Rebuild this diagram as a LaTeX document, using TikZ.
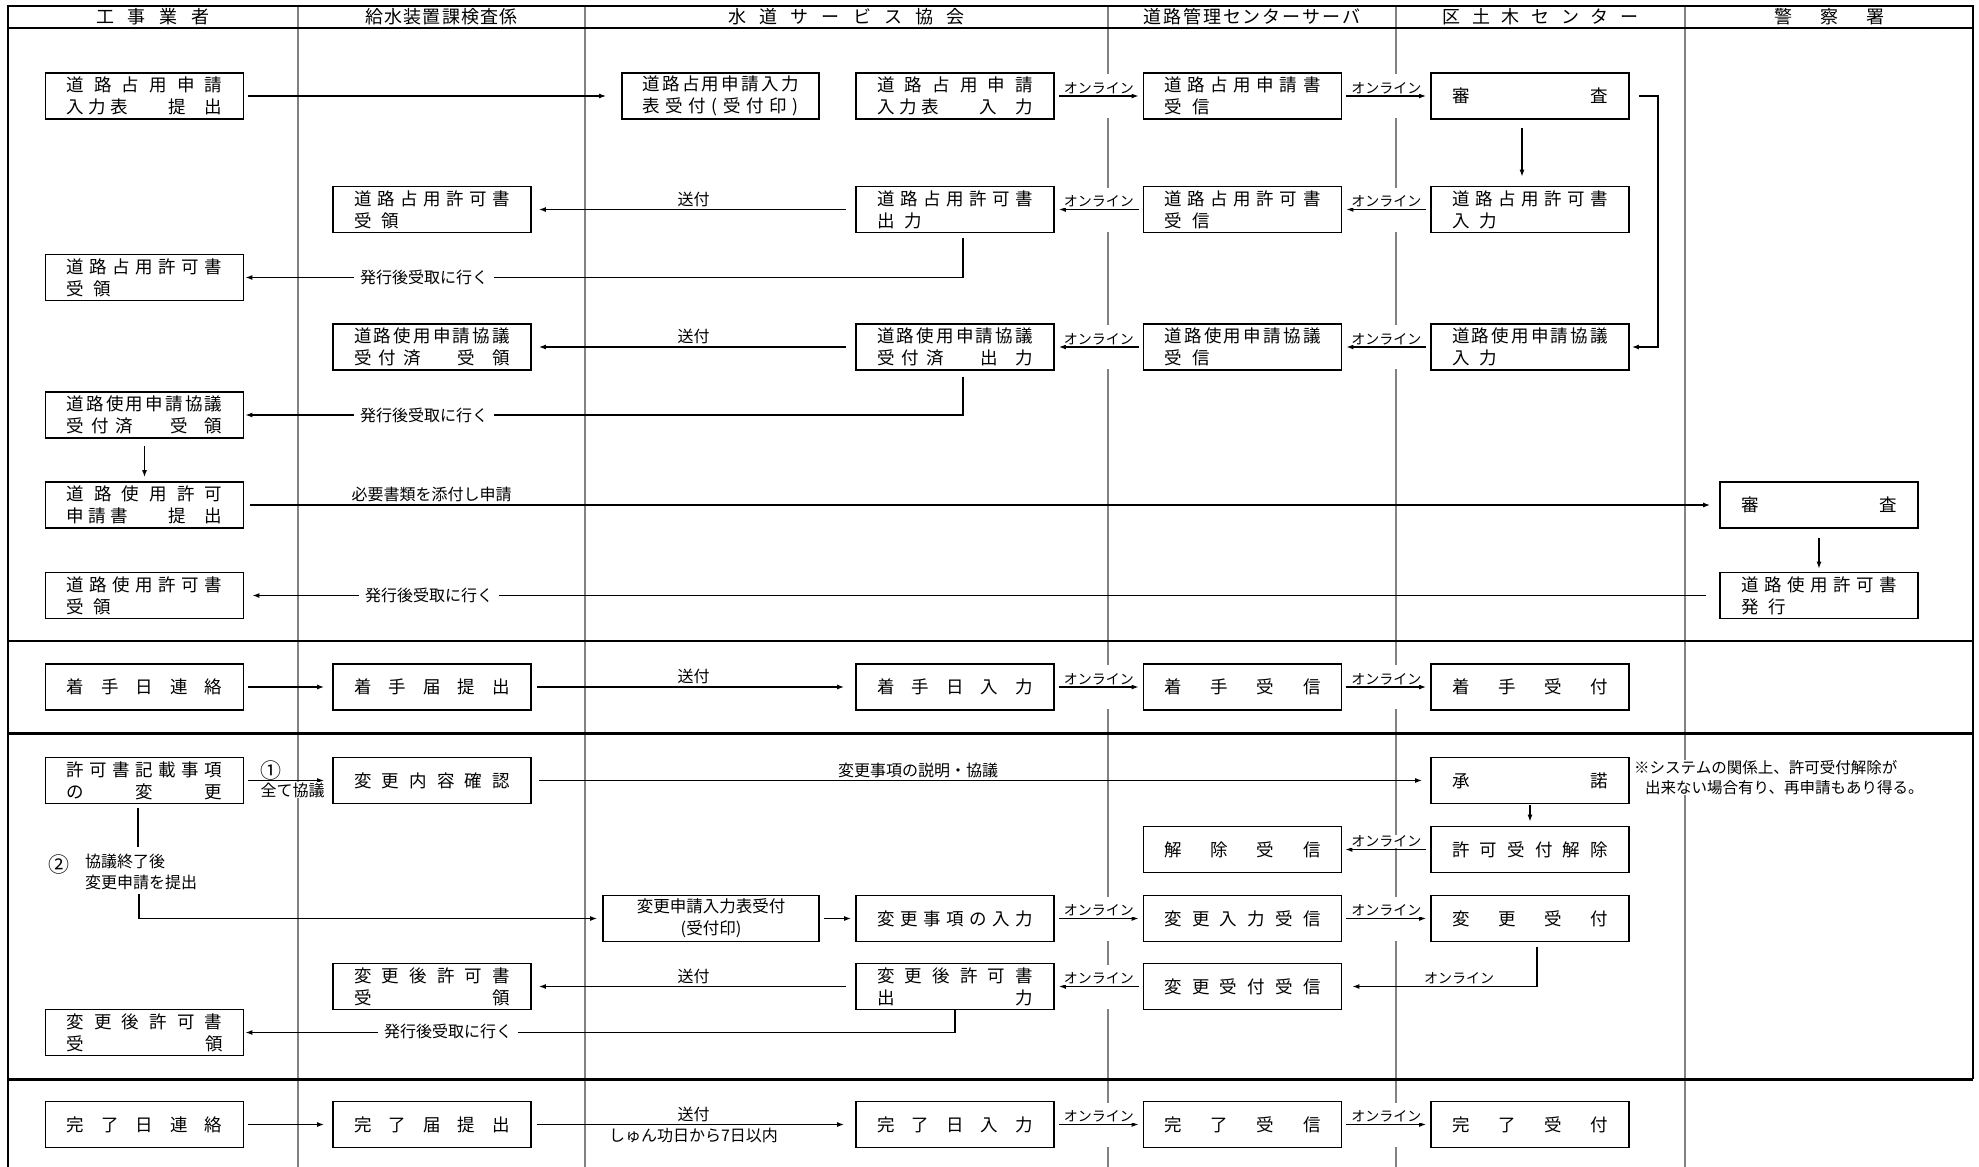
\documentclass[tikz,border=0pt]{standalone}
\usepackage{fontspec}
\setmainfont{Noto Sans CJK JP}
\usepackage{tikz}
\usetikzlibrary{arrows.meta, calc}
\definecolor{laneGray}{RGB}{130,130,130}
\newcommand{\spreadbox}[2]{\makebox[#1][s]{\spaceskip=0pt plus 1fil\relax #2}}
\newcommand{\wideline}[1]{\spreadbox{156pt}{#1}}
\newcommand{\jgap}{\hspace{10pt}}
\newcommand{\boxfont}{\fontsize{17.5pt}{22pt}\selectfont}
\newcommand{\lblfont}{\fontsize{16pt}{20.5pt}\selectfont}
\newcommand{\onlfont}{\fontsize{14pt}{16pt}\selectfont}
\newcommand{\hdfont}{\fontsize{18pt}{20pt}\selectfont}

\begin{document}
\begin{tikzpicture}[x=1pt, y=-1pt,
	procBox/.style={draw, line width=1.8pt, minimum width=198pt, minimum height=46pt,
		inner sep=0pt, text width=156pt, align=left, font=\boxfont},
	flowArrow/.style={line width=1.2pt, -{Latex[length=7pt,width=5pt]}, shorten <=4pt, shorten >=4pt},
	plainLine/.style={line width=1.2pt},
	onlineLbl/.style={midway, above=1pt, inner sep=0.5pt, font=\onlfont, fill=white},
	sendLbl/.style={midway, above=2pt, inner sep=0.5pt, font=\lblfont},
	pickupLbl/.style={fill=white, inner xsep=6pt, inner ysep=1pt, font=\lblfont},
	headLbl/.style={inner sep=0pt, font=\hdfont}]
	\useasboundingbox (0,0) rectangle (1979,1167);
	% lanes
	\foreach \lx in {298,585,1396,1685}
		\draw[laneGray, line width=2.6pt] (\lx,6) -- (\lx,1167);
	\draw[laneGray, line width=1.3pt] (1108,6) -- (1108,1167);
	\foreach \gx/\gy in {1108/96, 1108/209.5, 1108/347, 1108/687, 1108/918.5, 1108/987, 1108/1124.5,
		1396/96, 1396/209.5, 1396/347, 1396/687, 1396/918.5, 1396/1124.5}
		\fill[white] (\gx-3,\gy-22) rectangle (\gx+3,\gy+22);
	% frame
	\draw[line width=2.8pt] (8,6) -- (1973,6);
	\draw[line width=2.8pt] (8,28) -- (1973,28);
	\draw[line width=2pt] (8,5) -- (8,1167);
	\draw[line width=2.4pt] (1973,5) -- (1973,1079);
	\draw[line width=2pt] (8,641) -- (1973,641);
	\draw[line width=3pt] (8,733) -- (1973,733);
	\draw[line width=3pt] (8,1079) -- (1973,1079);
	% header
	\node[headLbl] (hd1) at (153,17) {\spreadbox{114pt}{工 事 業 者}};
	\node[headLbl] (hd2) at (441.5,17) {\spreadbox{152pt}{給 水 装 置 課 検 査 係}};
	\node[headLbl] (hd3) at (846.5,17) {\spreadbox{236pt}{水 道 サ ー ビ ス 協 会}};
	\node[headLbl] (hd4) at (1252,17) {\spreadbox{217pt}{道 路 管 理 セ ン タ ー サ ー バ}};
	\node[headLbl] (hd5) at (1540.5,17) {\spreadbox{196pt}{区 土 木 セ ン タ ー}};
	\node[headLbl] (hd6) at (1829,17) {\spreadbox{110pt}{警 察 署}};

	% block 1: road occupation / road use
	\node[procBox] (a1) at (144.5,96) {\wideline{道 路 占 用 申 請}\\\wideline{入 力 表 \hspace{36pt}提 \hspace{14pt}出}};
	\node[procBox, minimum width=197pt] (a2) at (720.5,96) {\wideline{道 路 占 用 申 請 入 力}\\\wideline{表 受 付 ( 受 付 印 )}};
	\node[procBox] (a3) at (955,96) {\wideline{道 路 占 用 申 請}\\\wideline{入 力 表 \hspace{36pt}入 \hspace{14pt}力}};
	\node[procBox] (a4) at (1242.5,96) {\wideline{道 路 占 用 申 請 書}\\受\jgap 信};
	\node[procBox] (a5) at (1530,96) {\wideline{審 査}};
	\node[procBox] (b2) at (432,209.5) {\wideline{道 路 占 用 許 可 書}\\受\jgap 領};
	\node[procBox] (b3) at (955,209.5) {\wideline{道 路 占 用 許 可 書}\\出\jgap 力};
	\node[procBox] (b4) at (1242.5,209.5) {\wideline{道 路 占 用 許 可 書}\\受\jgap 信};
	\node[procBox] (b5) at (1530,209.5) {\wideline{道 路 占 用 許 可 書}\\入\jgap 力};
	\node[procBox] (c1) at (144.5,277.5) {\wideline{道 路 占 用 許 可 書}\\受\jgap 領};
	\node[procBox] (d2) at (432,347) {\wideline{道 路 使 用 申 請 協 議}\\\wideline{受 付 済 \hspace{30pt}受 \hspace{10pt}領}};
	\node[procBox] (d3) at (955,347) {\wideline{道 路 使 用 申 請 協 議}\\\wideline{受 付 済 \hspace{30pt}出 \hspace{10pt}力}};
	\node[procBox] (d4) at (1242.5,347) {\wideline{道 路 使 用 申 請 協 議}\\受\jgap 信};
	\node[procBox] (d5) at (1530,347) {\wideline{道 路 使 用 申 請 協 議}\\入\jgap 力};
	\node[procBox] (e1) at (144.5,415) {\wideline{道 路 使 用 申 請 協 議}\\\wideline{受 付 済 \hspace{30pt}受 \hspace{10pt}領}};
	\node[procBox] (f1) at (144.5,505) {\wideline{道 路 使 用 許 可}\\\wideline{申 請 書 \hspace{36pt}提 \hspace{14pt}出}};
	\node[procBox] (f6) at (1819,505) {\wideline{審 査}};
	\node[procBox] (g1) at (144.5,595.5) {\wideline{道 路 使 用 許 可 書}\\受\jgap 領};
	\node[procBox] (g6) at (1819,595.5) {\wideline{道 路 使 用 許 可 書}\\発\jgap 行};

	\draw[flowArrow, shorten >=15pt] (a1) -- (a2);
	\draw[flowArrow] (a3) -- node[onlineLbl] (olA1) {オンライン} (a4);
	\draw[flowArrow] (a4) -- node[onlineLbl] (olA2) {オンライン} (a5);
	\draw[flowArrow, shorten <=8pt, shorten >=9pt] ([xshift=-8pt]a5.south) -- ([xshift=-8pt]b5.north);
	\draw[flowArrow, shorten <=9pt, shorten >=2pt] (a5.east) -- ++(28,0) |- (d5.east);
	\draw[flowArrow] (b5) -- node[onlineLbl] (olB1) {オンライン} (b4);
	\draw[flowArrow] (b4) -- node[onlineLbl] (olB2) {オンライン} (b3);
	\draw[flowArrow, shorten <=9pt, shorten >=7pt] (b3) -- node[sendLbl] (sdB) {送付} (b2);
	\draw[flowArrow, shorten <=0pt, shorten >=1pt] ([xshift=8pt,yshift=-5pt]b3.south) |- (c1.east);
	\node[pickupLbl] (pkC) at (424,277.5) {発行後受取に行く};
	\draw[flowArrow] (d5) -- node[onlineLbl] (olD1) {オンライン} (d4);
	\draw[flowArrow] (d4) -- node[onlineLbl] (olD2) {オンライン} (d3);
	\draw[flowArrow, shorten <=9pt, shorten >=7pt] (d3) -- node[sendLbl] (sdD) {送付} (d2);
	\draw[flowArrow, shorten <=0pt, shorten >=1pt] ([xshift=8pt,yshift=-6pt]d3.south) |- (e1.east);
	\node[pickupLbl] (pkE) at (424,415) {発行後受取に行く};
	\draw[flowArrow, shorten <=7pt, shorten >=4pt] (e1) -- (f1);
	\draw[flowArrow, shorten <=6pt, shorten >=9pt] (f1) -- node[sendLbl, pos=0.127] (reqF) {必要書類を添付し申請} (f6);
	\draw[flowArrow, shorten <=9pt, shorten >=3pt] (f6) -- (g6);
	\draw[flowArrow, shorten <=13pt, shorten >=8pt] (g6) -- (g1);
	\node[pickupLbl] (pkG) at (429,595.5) {発行後受取に行く};

	% block 2: start of work
	\node[procBox] (h1) at (144.5,687) {\wideline{着 手 日 連 絡}};
	\node[procBox] (h2) at (432,687) {\wideline{着 手 届 提 出}};
	\node[procBox] (h3) at (955,687) {\wideline{着 手 日 入 力}};
	\node[procBox] (h4) at (1242.5,687) {\wideline{着 手 受 信}};
	\node[procBox] (h5) at (1530,687) {\wideline{着 手 受 付}};
	\draw[flowArrow, shorten >=8pt] (h1) -- (h2);
	\draw[flowArrow, shorten <=5pt, shorten >=11pt] (h2) -- node[sendLbl] (sdH) {送付} (h3);
	\draw[flowArrow] (h3) -- node[onlineLbl] (olH1) {オンライン} (h4);
	\draw[flowArrow] (h4) -- node[onlineLbl] (olH2) {オンライン} (h5);

	% block 3: changes to the permit
	\node[procBox] (i1) at (144.5,780.5) {\wideline{許 可 書 記 載 事 項}\\\wideline{の 変 更}};
	\node[procBox] (i2) at (432,780.5) {\wideline{変 更 内 容 確 認}};
	\node[procBox] (i5) at (1530,780.5) {\wideline{承 諾}};
	\node[procBox] (j4) at (1242.5,849.5) {\wideline{解 除 受 信}};
	\node[procBox] (j5) at (1530,849.5) {\wideline{許 可 受 付 解 除}};
	\node[procBox, minimum width=216pt, text width=200pt, align=center, font=\fontsize{16.5pt}{22pt}\selectfont] (k3a) at (711,918.5) {変更申請入力表受付\\(受付印)};
	\node[procBox] (k3) at (955,918.5) {\wideline{変 更 事 項 の 入 力}};
	\node[procBox] (k4) at (1242.5,918.5) {\wideline{変 更 入 力 受 信}};
	\node[procBox] (k5) at (1530,918.5) {\wideline{変 更 受 付}};
	\node[procBox] (l2) at (432,986.5) {\wideline{変 更 後 許 可 書}\\\wideline{受 領}};
	\node[procBox] (l3) at (955,986.5) {\wideline{変 更 後 許 可 書}\\\wideline{出 力}};
	\node[procBox] (l4) at (1242.5,986.5) {\wideline{変 更 受 付 受 信}};
	\node[procBox] (m1) at (144.5,1032.5) {\wideline{変 更 後 許 可 書}\\\wideline{受 領}};

	\draw[flowArrow, shorten >=8pt] (i1) -- node[pos=0.3, above=0pt, inner sep=0pt, font=\fontsize{21pt}{22pt}\selectfont] (oneA) {①}
		node[pos=0.55, below=1pt, inner sep=0.5pt, fill=white, font=\lblfont] (allC) {全て協議} (i2);
	\draw[flowArrow, shorten <=7pt, shorten >=8pt] (i2) -- node[sendLbl, pos=0.43] (expl) {変更事項の説明・協議} (i5);
	\node[anchor=north west, inner sep=0pt, fill=white, align=left, font=\fontsize{15.5pt}{20pt}\selectfont] (note) at (1634,760)
		{※システムの関係上、許可受付解除が\\\hspace{11pt}出来ない場合有り、再申請もあり得る。};
	\draw[flowArrow, shorten <=1pt, shorten >=4pt] (i5) -- (j5);
	\draw[flowArrow, shorten >=3pt] (j5) -- node[onlineLbl] (olJ) {オンライン} (j4);
	\draw[plainLine] ([xshift=-6.5pt,yshift=-4pt]i1.south) -- ++(0,39);
	\node[inner sep=0pt, font=\fontsize{21pt}{22pt}\selectfont] (twoA) at (59,865) {②};
	\node[anchor=north west, inner sep=0pt, align=left, font=\lblfont] (step2) at (85,854) {協議終了後\\変更申請を提出};
	\coordinate (q2) at (139,894);
	\draw[flowArrow, shorten <=0pt, shorten >=5pt] (q2) |- (k3a.west);
	\draw[flowArrow] (k3a) -- (k3);
	\draw[flowArrow] (k3) -- node[onlineLbl] (olK1) {オンライン} (k4);
	\draw[flowArrow] (k4) -- node[onlineLbl] (olK2) {オンライン} (k5);
	\draw[flowArrow, shorten <=0pt, shorten >=10pt] ([xshift=7pt,yshift=-5pt]k5.south) |- node[onlineLbl, pos=0.7] (olL2) {オンライン} (l4.east);
	\draw[flowArrow] (l4) -- node[onlineLbl] (olL1) {オンライン} (l3);
	\draw[flowArrow, shorten <=9pt, shorten >=7pt] (l3) -- node[sendLbl] (sdL) {送付} (l2);
	\draw[flowArrow, shorten <=0pt, shorten >=1pt] (l3.south) |- (m1.east);
	\node[pickupLbl] (pkM) at (448,1031) {発行後受取に行く};

	% block 4: completion
	\node[procBox] (n1) at (144.5,1124.5) {\wideline{完 了 日 連 絡}};
	\node[procBox] (n2) at (432,1124.5) {\wideline{完 了 届 提 出}};
	\node[procBox] (n3) at (955,1124.5) {\wideline{完 了 日 入 力}};
	\node[procBox] (n4) at (1242.5,1124.5) {\wideline{完 了 受 信}};
	\node[procBox] (n5) at (1530,1124.5) {\wideline{完 了 受 付}};
	\draw[flowArrow, shorten >=8pt] (n1) -- (n2);
	\draw[flowArrow, shorten <=5pt, shorten >=11pt] (n2) -- node[sendLbl] (sdN) {送付}
		node[midway, below=2pt, inner sep=0.5pt, font=\lblfont] (limN) {しゅん功日から7日以内} (n3);
	\draw[flowArrow] (n3) -- node[onlineLbl] (olN1) {オンライン} (n4);
	\draw[flowArrow] (n4) -- node[onlineLbl] (olN2) {オンライン} (n5);
\end{tikzpicture}
\end{document}
